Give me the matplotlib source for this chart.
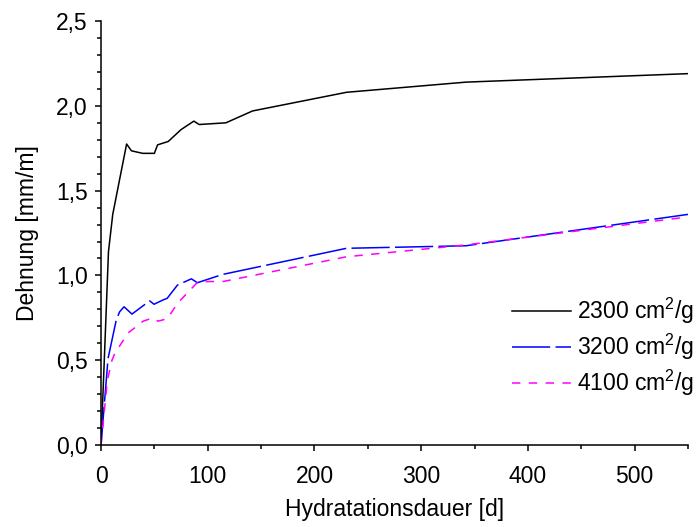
import matplotlib.pyplot as plt
from matplotlib.ticker import MultipleLocator, FuncFormatter

plt.rcParams.update({
    'font.family': ['Liberation Sans', 'DejaVu Sans'],
    'font.size': 16.5,
    'mathtext.fontset': 'custom',
    'mathtext.rm': 'Liberation Sans',
    'mathtext.it': 'Liberation Sans:italic',
})

# Hydratationsdauer [d] vs. Dehnung [mm/m]
x_2300 = [0, 7, 11, 18.5, 24, 28.5, 39, 50, 53, 63, 75, 87, 92, 117, 142, 230, 342, 550]
y_2300 = [0, 1.14, 1.36, 1.60, 1.775, 1.735, 1.72, 1.72, 1.77, 1.79, 1.86, 1.91, 1.89, 1.90,
          1.97, 2.08, 2.14, 2.19]

x_3200 = [0, 6.6, 14.4, 17.5, 21.6, 29, 45.6, 49.7, 58, 62, 71.6, 84.7, 90.3, 114, 230, 342, 550]
y_3200 = [0, 0.51, 0.74, 0.786, 0.815, 0.772, 0.85, 0.83, 0.855, 0.865, 0.943, 0.98, 0.957,
          1.006, 1.16, 1.175, 1.36]

x_4100 = [0, 6, 10.3, 12.9, 25.3, 39.4, 48.7, 53.4, 62.2, 71.6, 90.9, 115, 230, 342, 550]
y_4100 = [0, 0.383, 0.5, 0.54, 0.66, 0.73, 0.75, 0.73, 0.745, 0.835, 0.963, 0.965, 1.11, 1.18,
          1.345]

labels = ['2300 cm$^2$/g', '3200 cm$^2$/g', '4100 cm$^2$/g']

fig = plt.figure(figsize=(6.98, 5.27), dpi=100)
ax = fig.add_axes([0.1447, 0.1556, 0.841, 0.8044])

ax.plot(x_2300, y_2300, color='black', lw=1.1, label=labels[0])
ax.plot(x_3200, y_3200, color='#0000ff', lw=1.1, dashes=(25, 3.5), label=labels[1])
ax.plot(x_4100, y_4100, color='#ff00ff', lw=1.1, dashes=(5.5, 5.5), label=labels[2])

ax.set_xlim(0, 550)
ax.set_ylim(0, 2.5)
ax.xaxis.set_major_locator(MultipleLocator(100))
ax.xaxis.set_minor_locator(MultipleLocator(50))
ax.yaxis.set_major_locator(MultipleLocator(0.5))
ax.yaxis.set_minor_locator(MultipleLocator(0.1))
ax.yaxis.set_major_formatter(FuncFormatter(lambda v, p: f"{v:.1f}".replace('.', ',')))

for side in ['top', 'right']:
    ax.spines[side].set_visible(False)
for side in ['left', 'bottom']:
    ax.spines[side].set_linewidth(1.1)
ax.tick_params(which='major', direction='out', length=4.5, width=1.1, labelsize=16.5)
ax.tick_params(which='minor', direction='out', length=3, width=1.1)
ax.tick_params(axis='x', which='major', pad=10)
ax.tick_params(axis='y', which='major', pad=5)

ax.set_xlabel('Hydratationsdauer [d]', fontsize=16.5, labelpad=7)
ax.set_ylabel('Dehnung [mm/m]', fontsize=16.5, labelpad=12)

ax.legend(loc='center left', bbox_to_anchor=(0.70, 0.231), frameon=False, fontsize=16.5,
          handlelength=2.6, handletextpad=0.26, labelspacing=0.25,
          borderpad=0, borderaxespad=0)

fig.savefig('out.png', dpi=100)
